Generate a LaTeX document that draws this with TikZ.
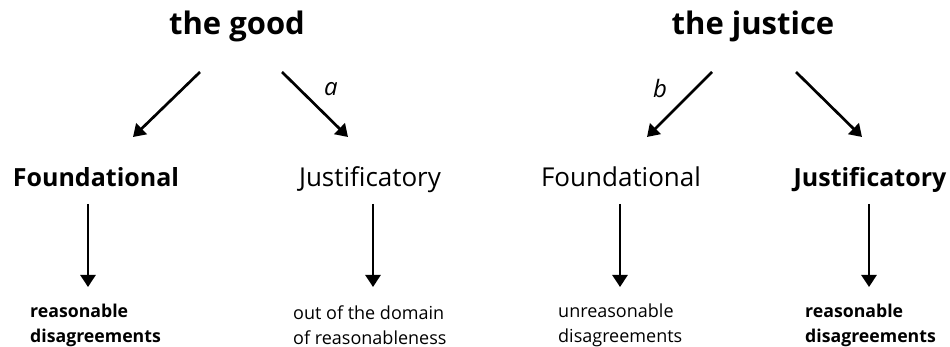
\documentclass[tikz,border=0pt]{standalone}
\usepackage{fontspec}
\setmainfont{Open Sans}
\usepackage{tikz}
\usetikzlibrary{arrows.meta}

\begin{document}
\begin{tikzpicture}[x=1pt,y=-1pt]
\tikzstyle{head}=[font=\bfseries\fontsize{31}{36}\selectfont, inner sep=0pt]
\tikzstyle{kind}=[font=\fontsize{26}{30}\selectfont, inner sep=0pt, anchor=base]
\tikzstyle{kindb}=[kind, font=\bfseries\fontsize{25}{30}\selectfont]
\tikzstyle{result}=[font=\fontsize{18}{25}\selectfont, align=left, anchor=west, inner sep=0pt]
\tikzstyle{resultb}=[result, font=\bfseries\fontsize{17.7}{25}\selectfont]
\tikzstyle{arr}=[line width=2.7pt, -{Triangle[width=15pt,length=12pt]}]
\tikzstyle{lab}=[font=\itshape\fontsize{24}{28}\selectfont, inner sep=0pt]
\useasboundingbox (0,0) rectangle (950,347);

\node[head] (good) at (237,26) {the good};
\node[head] (justice) at (753,26) {the justice};

\node[kindb] (f1) at (96,187) {Foundational};
\node[kind] (j1) at (370,187) {Justificatory};
\node[kind] (f2) at (621,187) {Foundational};
\node[kindb] (j2) at (870,187) {Justificatory};

\node[resultb] (r1) at (30,325) {reasonable\\disagreements};
\node[result] (r2) at (293,325) {out of the domain\\of reasonableness};
\node[result] (r3) at (558,325) {unreasonable\\disagreements};
\node[resultb] (r4) at (805,325) {reasonable\\disagreements};

% the good
\draw[arr] ([xshift=-37pt,yshift=-46pt]good.center) -- ([xshift=37pt,yshift=50pt]f1.base);
\draw[arr] ([xshift=45pt,yshift=-46pt]good.center) -- ([xshift=-22pt,yshift=50pt]j1.base);
\node[lab] (a) at (331,89) {a};

% the justice
\draw[arr] ([xshift=-41pt,yshift=-46pt]justice.center) -- ([xshift=26pt,yshift=50pt]f2.base);
\draw[arr] ([xshift=43pt,yshift=-46pt]justice.center) -- ([xshift=-8pt,yshift=50pt]j2.base);
\node[lab] (b) at (660,89) {b};

% results
\draw[arr] ([xshift=-8pt,yshift=-17pt]f1.base) -- ([xshift=-8pt,yshift=38pt]f1.base |- r1.center);
\draw[arr] ([xshift=3pt,yshift=-17pt]j1.base) -- ([xshift=3pt,yshift=38pt]j1.base |- r2.center);
\draw[arr] ([xshift=-1pt,yshift=-17pt]f2.base) -- ([xshift=-1pt,yshift=38pt]f2.base |- r3.center);
\draw[arr] ([xshift=-1pt,yshift=-17pt]j2.base) -- ([xshift=-1pt,yshift=38pt]j2.base |- r4.center);
\end{tikzpicture}
\end{document}
